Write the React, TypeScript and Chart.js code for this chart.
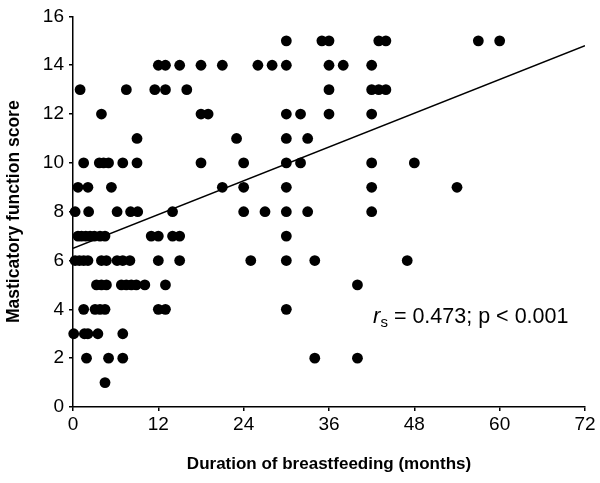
import { useEffect, useRef } from "react";
import { Chart, registerables } from "chart.js";

Chart.register(...registerables);

// Axis ticks
const xTickValues = [0, 12, 24, 36, 48, 60, 72];
const yTickValues = [0, 2, 4, 6, 8, 10, 12, 14, 16];

// Duration of breastfeeding (months) for each masticatory function score
const monthsScore15 = [30, 35, 36, 43, 44, 57, 60];
const monthsScore14 = [12, 13, 15, 18, 21, 26, 28, 30, 36, 38, 42];
const monthsScore13 = [1, 7.5, 11.5, 13, 16, 36, 42, 43, 44];
const monthsScore12 = [4, 18, 19, 30, 32, 36, 42];
const monthsScore11 = [9, 23, 30, 33];
const monthsScore10 = [1.5, 3.7, 4.3, 5, 7, 9, 18, 24, 30, 32, 42, 48];
const monthsScore9 = [0.7, 2.1, 5.4, 21, 24, 30, 42, 54];
const monthsScore8 = [0.3, 2.2, 6.2, 8.1, 9.1, 14, 24, 27, 30, 33, 42];
const monthsScore7 = [0.7, 1.2, 1.8, 2.4, 3.0, 3.8, 4.5, 11, 12, 14, 15, 30];
const monthsScore6 = [0.3, 0.9, 1.5, 2.1, 4, 4.7, 6.2, 7, 8, 12, 15, 25, 30, 34, 47];
const monthsScore5 = [3.3, 4, 4.7, 6.8, 7.5, 8.2, 8.9, 10.1, 13, 40];
const monthsScore4 = [1.5, 3.1, 3.8, 4.5, 12, 13, 30];
const monthsScore3 = [0.1, 1.6, 2.1, 3.5, 7];
const monthsScore2 = [1.9, 5, 7, 34, 40];
const monthsScore1 = [4.5];

const scoreLevels = [15, 14, 13, 12, 11, 10, 9, 8, 7, 6, 5, 4, 3, 2, 1];
const monthsByScore = [
  monthsScore15, monthsScore14, monthsScore13, monthsScore12, monthsScore11,
  monthsScore10, monthsScore9, monthsScore8, monthsScore7, monthsScore6,
  monthsScore5, monthsScore4, monthsScore3, monthsScore2, monthsScore1,
];

// Regression line end points
const trendMonths = [0, 72];
const trendScores = [6.5, 14.8];

// Annotation
const annotationText = " = 0.473; p < 0.001";
const annotationAnchor = { x: 42.2, y: 3.45 };

const FONT = '"Liberation Sans", Arial, sans-serif';

const annotationPlugin = {
  id: "rsAnnotation",
  afterDatasetsDraw(chart: any) {
    const { ctx, scales } = chart;
    const px = scales.x.getPixelForValue(annotationAnchor.x);
    const py = scales.y.getPixelForValue(annotationAnchor.y);
    ctx.save();
    ctx.fillStyle = "#000";
    ctx.textBaseline = "alphabetic";
    ctx.textAlign = "left";
    ctx.font = `italic 22px ${FONT}`;
    ctx.fillText("r", px, py);
    let w = ctx.measureText("r").width;
    ctx.font = `15px ${FONT}`;
    ctx.fillText("s", px + w, py + 4);
    w += ctx.measureText("s").width;
    ctx.font = `21.5px ${FONT}`;
    ctx.fillText(annotationText, px + w, py);
    ctx.restore();
  },
};

export default function App() {
  const canvasRef = useRef<HTMLCanvasElement | null>(null);

  useEffect(() => {
    if (!canvasRef.current) return;
    const points: { x: number; y: number }[] = [];
    scoreLevels.forEach((score, i) => {
      monthsByScore[i].forEach((m) => points.push({ x: m, y: score }));
    });
    const trend = trendMonths.map((m, i) => ({ x: m, y: trendScores[i] }));

    const chart = new Chart(canvasRef.current, {
      type: "scatter",
      data: {
        datasets: [
          {
            type: "line",
            data: trend,
            borderColor: "#000",
            borderWidth: 1.6,
            pointRadius: 0,
            fill: false,
            order: 2,
          } as any,
          {
            data: points,
            backgroundColor: "#000",
            borderColor: "#000",
            borderWidth: 0,
            pointRadius: 5.4,
            pointHoverRadius: 5.4,
            clip: false,
            order: 1,
          } as any,
        ],
      },
      options: {
        animation: false,
        responsive: false,
        maintainAspectRatio: false,
        events: [],
        layout: { padding: { left: 0, right: 15, top: 11, bottom: 4 } },
        plugins: {
          legend: { display: false },
          tooltip: { enabled: false },
        },
        scales: {
          x: {
            type: "linear",
            min: 0,
            max: 72,
            afterBuildTicks: (scale: any) => {
              scale.ticks = xTickValues.map((v) => ({ value: v }));
            },
            afterFit: (scale: any) => {
              scale.height = 72;
            },
            ticks: {
              color: "#000",
              font: { family: FONT, size: 19 },
              padding: 2,
              maxRotation: 0,
            },
            grid: {
              display: true,
              drawOnChartArea: false,
              drawTicks: true,
              tickLength: 4,
              color: "#000",
              lineWidth: 1.5,
            },
            border: { display: true, color: "#000", width: 1.5 },
            title: {
              display: true,
              text: "Duration of breastfeeding (months)",
              color: "#000",
              font: { family: FONT, size: 17, weight: "bold" },
              padding: { top: 4, bottom: 4 },
            },
          },
          y: {
            type: "linear",
            min: 0,
            max: 16,
            afterBuildTicks: (scale: any) => {
              scale.ticks = yTickValues.map((v) => ({ value: v }));
            },
            afterFit: (scale: any) => {
              scale.width = 73;
            },
            ticks: {
              color: "#000",
              font: { family: FONT, size: 19 },
              padding: 5,
            },
            grid: {
              display: true,
              drawOnChartArea: false,
              drawTicks: true,
              tickLength: 4,
              color: "#000",
              lineWidth: 1.5,
            },
            border: { display: true, color: "#000", width: 1.5 },
            title: {
              display: true,
              text: "Masticatory function score",
              color: "#000",
              font: { family: FONT, size: 17.5, weight: "bold" },
              padding: { top: 4, bottom: 4 },
            },
          },
        },
      } as any,
      plugins: [annotationPlugin],
    });
    return () => chart.destroy();
  }, []);

  return (
    <div style={{ position: "fixed", left: 0, top: 0, width: 600, height: 483, background: "#fff" }}>
      <canvas ref={canvasRef} width={600} height={483} style={{ width: 600, height: 483, display: "block" }} />
    </div>
  );
}
